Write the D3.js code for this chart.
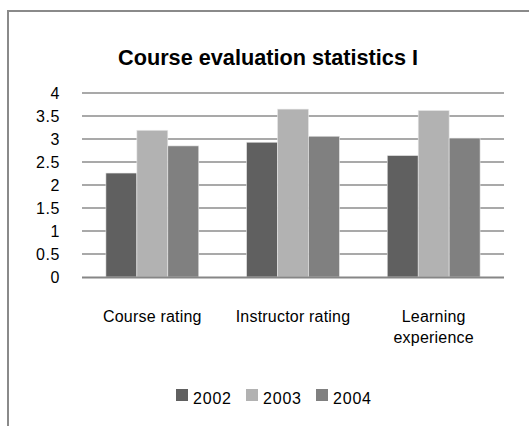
<!DOCTYPE html>
<html>
<head>
<meta charset="utf-8">
<script src="https://cdn.jsdelivr.net/npm/d3@7"></script>
<style>
  body { margin: 0; background: #fff; }
  text { font-family: "Liberation Sans", Arial, sans-serif; fill: #000; }
</style>
</head>
<body>
<script>
const categories = ["Course rating", "Instructor rating", "Learning experience"];
const years = ["2002", "2003", "2004"];
const values2002 = [2.26, 2.93, 2.64];
const values2003 = [3.19, 3.65, 3.62];
const values2004 = [2.85, 3.06, 3.02];
const yTicks = [0, 0.5, 1, 1.5, 2, 2.5, 3, 3.5, 4];
const colors = ["#606060", "#b2b2b2", "#808080"];

const width = 529;
const height = 426;

const svg = d3.select("body")
    .append("svg")
    .attr("width", width)
    .attr("height", height);

// chart frame (runs off the right and bottom edge)
svg.append("path")
    .attr("d", `M8,${height + 5} L8,11 L${width + 5},11`)
    .attr("fill", "none")
    .attr("stroke", "#8a8a8a")
    .attr("stroke-width", 2);

// title - narrow bold face, squeezed to the reference width
svg.append("text")
    .attr("x", 118)
    .attr("y", 65)
    .attr("textLength", 300)
    .attr("lengthAdjust", "spacingAndGlyphs")
    .style("font-weight", "bold")
    .style("font-size", "22px")
    .text("Course evaluation  statistics  I");

const x = d3.scaleBand()
    .domain(categories)
    .range([82, 504])
    .paddingInner(0.34)
    .paddingOuter(0.17);

const xs = d3.scaleBand()
    .domain(years)
    .range([0, x.bandwidth()]);

const y = d3.scaleLinear()
    .domain([0, 4])
    .range([277, 93]);

// gridlines
svg.append("g")
    .selectAll("line")
    .data(yTicks.slice(1))
    .enter()
    .append("line")
    .attr("x1", 82)
    .attr("x2", 504)
    .attr("y1", d => y(d))
    .attr("y2", d => y(d))
    .attr("stroke", "#8c8c8c")
    .attr("stroke-width", 1.5);

// y tick labels
svg.append("g")
    .selectAll("text")
    .data(yTicks)
    .enter()
    .append("text")
    .attr("x", 60)
    .attr("y", d => y(d) + 5.5)
    .attr("text-anchor", "end")
    .style("font-size", "16px")
    .style("letter-spacing", "0.6px")
    .text(d => d);

// bars
const seriesData = [values2002, values2003, values2004];
const groups = svg.append("g")
    .selectAll("g")
    .data(categories)
    .enter()
    .append("g")
    .attr("transform", d => `translate(${x(d)},0)`);

groups.selectAll("rect")
    .data((c, i) => years.map((yr, j) => ({ year: yr, value: seriesData[j][i], j: j })))
    .enter()
    .append("rect")
    .attr("x", d => xs(d.year))
    .attr("y", d => y(d.value))
    .attr("width", xs.bandwidth())
    .attr("height", d => y(0) - y(d.value))
    .attr("fill", d => colors[d.j])
    .attr("stroke", "#e8e8e8")
    .attr("stroke-width", 0.6);

// x axis line
svg.append("line")
    .attr("x1", 82)
    .attr("x2", 504)
    .attr("y1", y(0) + 0.5)
    .attr("y2", y(0) + 0.5)
    .attr("stroke", "#868686")
    .attr("stroke-width", 2);

// category labels
const labelLines = {
    "Course rating": ["Course rating"],
    "Instructor rating": ["Instructor rating"],
    "Learning experience": ["Learning", "experience"]
};
svg.append("g")
    .selectAll("text")
    .data(categories)
    .enter()
    .append("text")
    .attr("x", d => x(d) + x.bandwidth() / 2)
    .attr("y", 322)
    .attr("text-anchor", "middle")
    .style("font-size", "16px")
    .style("letter-spacing", "0.2px")
    .each(function (d) {
        d3.select(this).selectAll("tspan")
            .data(labelLines[d])
            .enter()
            .append("tspan")
            .attr("x", x(d) + x.bandwidth() / 2)
            .attr("dy", (t, i) => i === 0 ? 0 : 21)
            .text(t => t);
    });

// legend
const legend = svg.append("g")
    .selectAll("g")
    .data(years)
    .enter()
    .append("g")
    .attr("transform", (d, i) => `translate(${176 + i * 70},389)`);

legend.append("rect")
    .attr("width", 12)
    .attr("height", 12)
    .attr("fill", (d, i) => colors[i]);

legend.append("text")
    .attr("x", 17)
    .attr("y", 15)
    .style("font-size", "16px")
    .style("letter-spacing", "0.8px")
    .text(d => d);
</script>
</body>
</html>
